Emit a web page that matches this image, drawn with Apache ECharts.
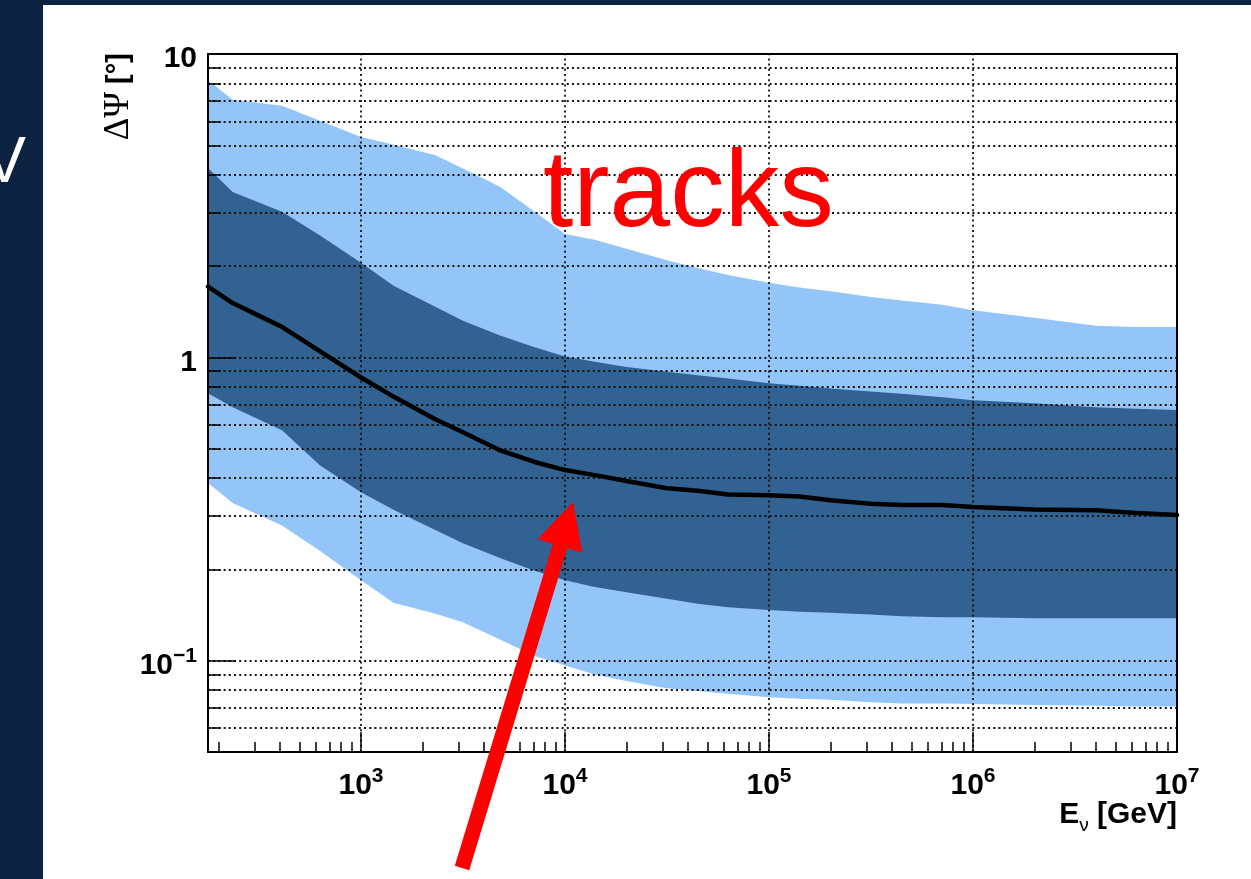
<!DOCTYPE html>
<html>
<head>
<meta charset="utf-8">
<script src="https://cdn.jsdelivr.net/npm/echarts@6/dist/echarts.min.js"></script>
<style>
html,body{margin:0;padding:0;background:#fff;}
#chart{width:1251px;height:879px;}
</style>
</head>
<body>
<div id="chart"></div>
<script>
// ---- data ----
const energy  = [177.8, 235, 410, 630, 1000, 1450, 2300, 3160, 4800, 7100, 10000, 14000, 20000, 31600, 44700, 63000, 100000, 141000, 200000, 316000, 447000, 708000, 1000000, 2000000, 4000000, 6300000, 10000000];
const upper90 = [8.2, 7.07, 6.75, 6.03, 5.33, 5.02, 4.65, 4.19, 3.65, 3.02, 2.55, 2.44, 2.28, 2.09, 1.97, 1.87, 1.76, 1.70, 1.65, 1.58, 1.54, 1.49, 1.43, 1.35, 1.27, 1.26, 1.26];
const upper68 = [4.21, 3.51, 3.02, 2.52, 2.05, 1.72, 1.47, 1.32, 1.18, 1.08, 1.006, 0.968, 0.929, 0.897, 0.873, 0.851, 0.822, 0.806, 0.790, 0.772, 0.759, 0.738, 0.722, 0.706, 0.685, 0.677, 0.670];
const median  = [1.71, 1.51, 1.26, 1.046, 0.858, 0.741, 0.626, 0.566, 0.494, 0.452, 0.425, 0.409, 0.391, 0.370, 0.363, 0.353, 0.351, 0.348, 0.338, 0.329, 0.326, 0.326, 0.321, 0.315, 0.313, 0.307, 0.302];
const lower68 = [0.762, 0.685, 0.575, 0.440, 0.359, 0.314, 0.270, 0.244, 0.218, 0.198, 0.184, 0.175, 0.168, 0.160, 0.154, 0.150, 0.147, 0.145, 0.144, 0.142, 0.140, 0.139, 0.139, 0.138, 0.138, 0.138, 0.138];
const lower90 = [0.385, 0.331, 0.279, 0.230, 0.184, 0.155, 0.143, 0.134, 0.1175, 0.1036, 0.0965, 0.090, 0.0857, 0.0811, 0.0795, 0.0778, 0.0757, 0.0749, 0.0744, 0.0730, 0.0723, 0.0723, 0.0720, 0.0715, 0.0710, 0.0706, 0.0706];

const xMin = 177.8, xMax = 1e7;
const yMin = 0.05, yMax = 10;
const xMajorTicks = [1e3, 1e4, 1e5, 1e6, 1e7];
const xMinorTicks = [200,300,400,500,600,700,800,900,
  2e3,3e3,4e3,5e3,6e3,7e3,8e3,9e3,
  2e4,3e4,4e4,5e4,6e4,7e4,8e4,9e4,
  2e5,3e5,4e5,5e5,6e5,7e5,8e5,9e5,
  2e6,3e6,4e6,5e6,6e6,7e6,8e6,9e6];
const yMajorTicks = [0.1, 1, 10];
const yMinorTicks = [0.06,0.07,0.08,0.09,0.2,0.3,0.4,0.5,0.6,0.7,0.8,0.9,2,3,4,5,6,7,8,9];
const xGridValues = [1e3, 1e4, 1e5, 1e6];
const yGridValues = [0.06,0.07,0.08,0.09,0.1,0.2,0.3,0.4,0.5,0.6,0.7,0.8,0.9,1,2,3,4,5,6,7,8,9];

// ---- styling ----
const LIGHT = '#93c5f8';
const DARK = '#316291';
const NAVY = '#0b2341';
const FONT = 'Liberation Sans';

const pairs = arr => energy.map((e, i) => [e, arr[i]]);

const richLab = {
  b: {fontFamily: FONT, fontWeight: 'bold', fontSize: 30, lineHeight: 40, color: '#000'},
  s: {fontFamily: FONT, fontWeight: 'bold', fontSize: 21, lineHeight: 14, verticalAlign: 'top', color: '#000'}
};

function band(name, arr, color, z) {
  return {
    name, type: 'line', data: pairs(arr), z,
    showSymbol: false, symbol: 'none', silent: true,
    lineStyle: {width: 0},
    areaStyle: {color, opacity: 1, origin: 'start'},
    animation: false
  };
}

const gridLineStyle = {type: [2, 3.2], width: 1.8, color: '#111'};

const option = {
  animation: false,
  backgroundColor: '#ffffff',
  grid: {left: 208, top: 54, right: 74, bottom: 127, containLabel: false, outerBoundsMode: 'none'},
  xAxis: [
    {
      type: 'log', min: xMin, max: xMax, position: 'bottom', z: 10,
      axisLine: {show: true, lineStyle: {color: '#000', width: 2}},
      axisTick: {show: true, inside: true, length: 20, customValues: xMajorTicks, lineStyle: {color: '#000', width: 1.5}},
      axisLabel: {show: true, customValues: xMajorTicks, margin: 14, rich: richLab,
        formatter: v => '{b|10}{s|' + Math.round(Math.log10(v)) + '}'},
      splitLine: {show: false}, minorTick: {show: false}
    },
    {
      type: 'log', min: xMin, max: xMax, position: 'bottom', z: 10,
      axisLine: {show: false},
      axisTick: {show: true, inside: true, length: 10, customValues: xMinorTicks, lineStyle: {color: '#000', width: 1.5}},
      axisLabel: {show: false}, splitLine: {show: false}
    },
    {
      type: 'log', min: xMin, max: xMax, position: 'top', z: 10,
      axisLine: {show: true, lineStyle: {color: '#000', width: 2}},
      axisTick: {show: false}, axisLabel: {show: false}, splitLine: {show: false}
    }
  ],
  yAxis: [
    {
      type: 'log', min: yMin, max: yMax, position: 'left', z: 10,
      axisLine: {show: true, lineStyle: {color: '#000', width: 2}},
      axisTick: {show: true, inside: true, length: 28, customValues: yMajorTicks, lineStyle: {color: '#000', width: 1.5}},
      axisLabel: {show: true, customValues: yMajorTicks, margin: 11, rich: richLab, padding: [10, 0, 0, 0],
        formatter: v => {
          const e = Math.round(Math.log10(v));
          if (e === 0) return '{b|1}';
          if (e === 1) return '{b|10}';
          return '{b|10}{s|\u2212' + (-e) + '}';
        }},
      splitLine: {show: false}
    },
    {
      type: 'log', min: yMin, max: yMax, position: 'left', z: 10,
      axisLine: {show: false},
      axisTick: {show: true, inside: true, length: 13, customValues: yMinorTicks, lineStyle: {color: '#000', width: 1.5}},
      axisLabel: {show: false}, splitLine: {show: false}
    },
    {
      type: 'log', min: yMin, max: yMax, position: 'right', z: 10,
      axisLine: {show: true, lineStyle: {color: '#000', width: 2}},
      axisTick: {show: false}, axisLabel: {show: false}, splitLine: {show: false}
    }
  ],
  series: [
    band('upper90', upper90, LIGHT, 1),
    band('upper68', upper68, DARK, 2),
    band('lower68', lower68, LIGHT, 3),
    band('lower90', lower90, '#ffffff', 4),
    {
      name: 'grid', type: 'line', z: 5, silent: true,
      data: [[1000, 1]], showSymbol: false, symbol: 'none',
      lineStyle: {opacity: 0},
      markLine: {
        silent: true, symbol: 'none', animation: false,
        label: {show: false},
        lineStyle: gridLineStyle,
        data: xGridValues.map(v => ({xAxis: v})).concat(yGridValues.map(v => ({yAxis: v})))
      }
    },
    {
      name: 'median', type: 'line', data: pairs(median), z: 6,
      showSymbol: false, symbol: 'none', silent: true,
      lineStyle: {color: '#000', width: 4.5, join: 'round', cap: 'round'}
    }
  ],
  graphic: [
    {type: 'rect', z: 100, shape: {x: 0, y: 0, width: 43, height: 879}, style: {fill: NAVY}},
    {type: 'rect', z: 100, shape: {x: 0, y: 0, width: 1251, height: 5}, style: {fill: NAVY}},
    {type: 'text', z: 101, x: 26, y: 164,
      style: {text: 'V', fill: '#ffffff', fontFamily: FONT, fontSize: 64, align: 'right', verticalAlign: 'middle'}},
    {type: 'text', z: 100, x: 543, y: 196,
      style: {text: 'tracks', fill: '#ff0000', fontFamily: FONT, fontSize: 109, align: 'left', verticalAlign: 'middle'}},
    {type: 'polygon', z: 100,
      shape: {points: [[573,502],[582.4,552.8],[567.2,548.2],[469.2,870.2],[454.8,865.8],[552.8,543.8],[537.6,539.2]]},
      style: {fill: '#ff0000'}},
    {type: 'text', z: 100, x: 119, y: 53, rotation: Math.PI / 2,
      style: {
        text: '{a|ΔΨ}{c| [°]}', align: 'right', verticalAlign: 'middle',
        rich: {
          a: {fontFamily: 'Liberation Serif', fontSize: 35, color: '#000'},
          c: {fontFamily: FONT, fontWeight: 'bold', fontSize: 29, color: '#000'}
        }
      }},
    {type: 'text', z: 100, x: 1177, y: 815,
      style: {
        text: '{b|E}{n|ν}{b| [GeV]}', align: 'right', verticalAlign: 'middle',
        rich: {
          b: {fontFamily: FONT, fontWeight: 'bold', fontSize: 30, lineHeight: 40, color: '#000'},
          n: {fontFamily: FONT, fontSize: 19, lineHeight: 20, verticalAlign: 'bottom', color: '#000'}
        }
      }}
  ]
};

const chart = echarts.init(document.getElementById('chart'), null, {renderer: 'canvas'});
chart.setOption(option);
</script>
</body>
</html>
